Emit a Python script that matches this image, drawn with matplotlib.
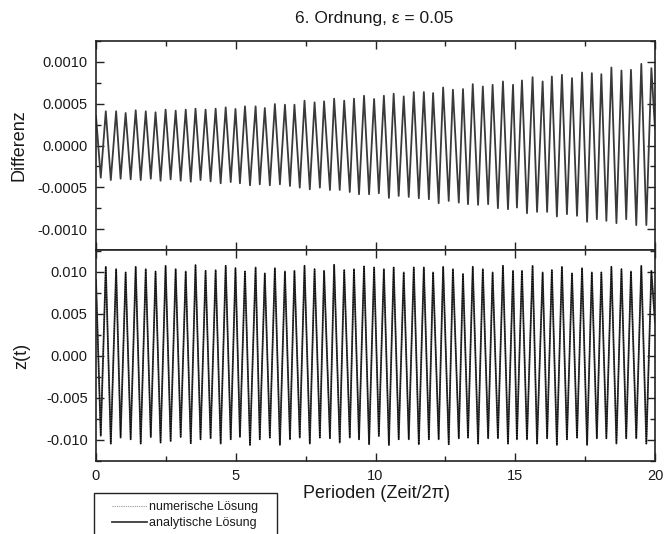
import numpy as np
import matplotlib
matplotlib.use("Agg")
import matplotlib.pyplot as plt
from matplotlib.ticker import MultipleLocator, FormatStrFormatter
from matplotlib.lines import Line2D
from matplotlib.patches import Rectangle

plt.rcParams['font.family'] = ['Liberation Sans', 'DejaVu Sans']

# ---- data -----------------------------------------------------------------
title = "6. Ordnung, \u03b5 = 0.05"
xlabel = "Perioden (Zeit/2\u03c0)"
ylabel_top = "Differenz"
ylabel_bot = "z(t)"
legend_labels = ["numerische L\u00f6sung", "analytische L\u00f6sung"]

t_start, t_end = 0.0, 20.0

# times (in periods) of the maxima and minima of the oscillation
t_peaks = [0.35, 0.72, 1.06, 1.42, 1.78, 2.13, 2.49, 2.85, 3.21, 3.56, 3.92, 4.28, 4.64, 4.99,
           5.33, 5.71, 6.04, 6.40, 6.76, 7.10, 7.46, 7.82, 8.16, 8.52, 8.88, 9.23, 9.59, 9.95,
           10.30, 10.65, 11.01, 11.37, 11.73, 12.06, 12.42, 12.77, 13.13, 13.48, 13.84, 14.19, 14.56, 14.92,
           15.24, 15.62, 15.98, 16.31, 16.67, 17.03, 17.39, 17.74, 18.08, 18.44, 18.80, 19.14, 19.51, 19.87]
t_troughs = [0.17, 0.53, 0.88, 1.24, 1.60, 1.96, 2.31, 2.67, 3.03, 3.39, 3.74, 4.10, 4.46, 4.82,
             5.15, 5.51, 5.86, 6.22, 6.58, 6.94, 7.29, 7.65, 8.01, 8.37, 8.72, 9.08, 9.41, 9.77,
             10.12, 10.48, 10.83, 11.19, 11.55, 11.91, 12.26, 12.62, 12.98, 13.31, 13.67, 14.03, 14.38, 14.74,
             15.06, 15.42, 15.78, 16.14, 16.49, 16.85, 17.21, 17.57, 17.92, 18.26, 18.62, 18.97, 19.33, 19.69]

# Differenz (top panel)
diff_start, diff_end = 0.00035, 0.00020
diff_peaks = [0.000409, 0.000409, 0.000389, 0.000421, 0.000409, 0.000397, 0.000429, 0.000417, 0.000429, 0.000440, 0.000429, 0.000440, 0.000456, 0.000437,
              0.000468, 0.000468, 0.000448, 0.000496, 0.000488, 0.000488, 0.000536, 0.000516, 0.000528, 0.000560, 0.000536, 0.000560, 0.000595, 0.000556,
              0.000595, 0.000619, 0.000587, 0.000639, 0.000639, 0.000627, 0.000694, 0.000667, 0.000675, 0.000734, 0.000706, 0.000726, 0.000766, 0.000726,
              0.000778, 0.000817, 0.000766, 0.000825, 0.000845, 0.000806, 0.000873, 0.000865, 0.000853, 0.000933, 0.000897, 0.000905, 0.000976, 0.000925]
diff_troughs = [-0.000385, -0.000413, -0.000397, -0.000405, -0.000413, -0.000397, -0.000421, -0.000405, -0.000421, -0.000433, -0.000413, -0.000429, -0.000452, -0.000437,
                -0.000452, -0.000476, -0.000464, -0.000476, -0.000464, -0.000484, -0.000504, -0.000524, -0.000504, -0.000532, -0.000532, -0.000556, -0.000583, -0.000583,
                -0.000571, -0.000627, -0.000603, -0.000615, -0.000631, -0.000643, -0.000690, -0.000663, -0.000683, -0.000702, -0.000710, -0.000702, -0.000750, -0.000762,
                -0.000742, -0.000810, -0.000794, -0.000794, -0.000849, -0.000821, -0.000841, -0.000913, -0.000881, -0.000901, -0.000929, -0.000881, -0.000952, -0.000952]

# z(t) (bottom panel); numerical and analytical curves coincide at this scale
z_start, z_end = 0.0090, 0.0040
z_peaks = [0.01060, 0.01032, 0.00993, 0.01060, 0.01032, 0.01004, 0.01072, 0.01032, 0.01004, 0.01080, 0.01012, 0.01020, 0.01072, 0.01044,
           0.01004, 0.01052, 0.00981, 0.01044, 0.01004, 0.01012, 0.01072, 0.01032, 0.01012, 0.01084, 0.01020, 0.01032, 0.01064, 0.01052,
           0.01032, 0.01052, 0.00993, 0.01052, 0.01052, 0.00993, 0.01060, 0.01032, 0.00973, 0.01060, 0.01032, 0.00993, 0.01072, 0.01012,
           0.01012, 0.01072, 0.00993, 0.01020, 0.01060, 0.00981, 0.01044, 0.00993, 0.00993, 0.01060, 0.01032, 0.01004, 0.01072, 0.01012]
z_troughs = [-0.00950, -0.01043, -0.00972, -0.00992, -0.01043, -0.00964, -0.01031, -0.01012, -0.00964, -0.01039, -0.00992, -0.00980, -0.01043, -0.00992,
             -0.00964, -0.01059, -0.00992, -0.00972, -0.01059, -0.00992, -0.00972, -0.01043, -0.00972, -0.00980, -0.01031, -0.00972, -0.00992, -0.01051,
             -0.00952, -0.01059, -0.00992, -0.00992, -0.01051, -0.00992, -0.00992, -0.01051, -0.00980, -0.00972, -0.01043, -0.00980, -0.00980, -0.01043,
             -0.00992, -0.00992, -0.01043, -0.00980, -0.01059, -0.00992, -0.00972, -0.01059, -0.00980, -0.00980, -0.01043, -0.00980, -0.00980, -0.01043]


def series(start, troughs, peaks, end):
    """Interleave the read extrema into one polyline (trough, peak, trough, ...)."""
    t = [t_start]
    v = [start]
    for tt, vt, tp, vp in zip(t_troughs, troughs, t_peaks, peaks):
        t += [tt, tp]
        v += [vt, vp]
    t.append(t_end)
    v.append(end)
    return np.array(t), np.array(v)


t_d, v_d = series(diff_start, diff_troughs, diff_peaks, diff_end)
t_z, v_z = series(z_start, z_troughs, z_peaks, z_end)

# ---- figure ---------------------------------------------------------------
W, H = 664, 534
fig = plt.figure(figsize=(W / 100, H / 100), dpi=100)
txt = '#1a1a1a'

L, R = 96, 655
ax1 = fig.add_axes([L / W, 1 - 250 / H, (R - L) / W, (250 - 41) / H])
ax2 = fig.add_axes([L / W, 1 - 461 / H, (R - L) / W, (461 - 250) / H], sharex=ax1)

line_col = '#3a3a3a'
ax1.plot(t_d, v_d, color=line_col, lw=1.3, solid_joinstyle='round')
ax2.plot(t_z, v_z, color=line_col, lw=1.3, solid_joinstyle='round')
ax2.plot(t_z, v_z, color='black', lw=0.8, linestyle=(0, (1, 1.2)))

ax1.set_xlim(0, 20)
ax1.set_ylim(-0.00125, 0.00125)
ax2.set_ylim(-0.0125, 0.0126)

for ax in (ax1, ax2):
    ax.xaxis.set_major_locator(MultipleLocator(5))
    ax.xaxis.set_minor_locator(MultipleLocator(2.5))
    ax.tick_params(which='both', direction='in', top=True, right=True,
                   colors='#222222', labelcolor=txt, labelsize=10.5, width=1.0)
    ax.tick_params(which='major', length=6, pad=6)
    ax.tick_params(which='minor', length=3.5)
    for s in ax.spines.values():
        s.set_linewidth(1.2)
        s.set_color('#222222')

ax1.yaxis.set_major_locator(MultipleLocator(0.0005))
ax1.yaxis.set_minor_locator(MultipleLocator(0.00025))
ax1.yaxis.set_major_formatter(FormatStrFormatter('%.4f'))
ax2.yaxis.set_major_locator(MultipleLocator(0.005))
ax2.yaxis.set_minor_locator(MultipleLocator(0.0025))
ax2.yaxis.set_major_formatter(FormatStrFormatter('%.3f'))
ax2.xaxis.set_major_formatter(FormatStrFormatter('%d'))
plt.setp(ax1.get_xticklabels(), visible=False)

ax1.set_ylabel(ylabel_top, fontsize=13, color=txt, labelpad=7)
ax2.set_ylabel(ylabel_bot, fontsize=13, color=txt, labelpad=11)

fig.text(374 / W, 1 - 18 / H, title, ha='center', va='center', fontsize=12.5, color=txt)
fig.text(376 / W, 1 - 494 / H, xlabel, ha='center', va='center', fontsize=13, color=txt)

# legend box (runs off the bottom edge like in the original)
fig.patches.append(Rectangle((94 / W, -0.05), (277 - 94) / W, 1 - 493 / H + 0.05,
                             transform=fig.transFigure, facecolor='white',
                             edgecolor='#222222', lw=1.0, zorder=5))
handles = [Line2D([], [], color='#9a9a9a', lw=0.8, linestyle=(0, (1, 1))),
           Line2D([], [], color=line_col, lw=1.3)]
leg = fig.legend(handles, legend_labels, loc='upper left',
                 bbox_to_anchor=(107 / W, 1 - 496 / H), fontsize=9,
                 frameon=False, handlelength=2.8, handletextpad=0.15,
                 borderpad=0.4, labelspacing=0.35, borderaxespad=0)
leg.set_zorder(6)
for t in leg.get_texts():
    t.set_color(txt)

fig.savefig('out.png', dpi=100)
